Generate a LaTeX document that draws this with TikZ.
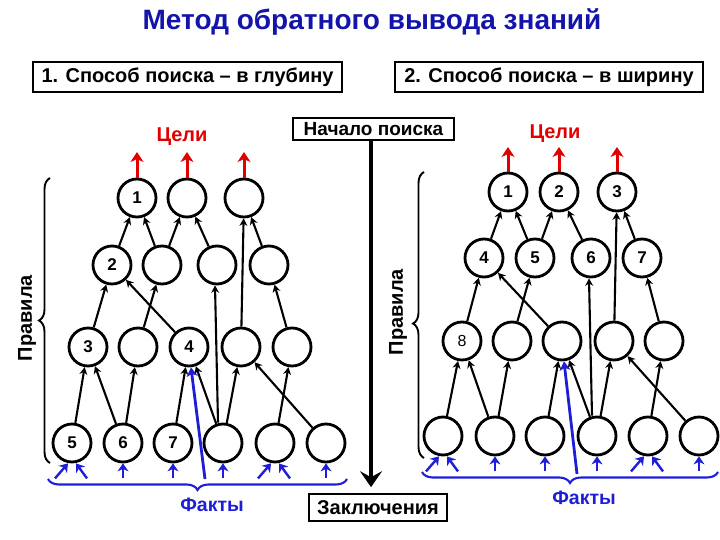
\documentclass[tikz,border=0pt]{standalone}
\usepackage{fontspec}
\setmainfont{Liberation Sans}
\usetikzlibrary{arrows.meta,decorations.pathreplacing}
\definecolor{titleblue}{RGB}{20,20,170}
\definecolor{fblue}{RGB}{30,30,215}
\definecolor{gred}{RGB}{225,0,0}
\begin{document}
\begin{tikzpicture}[x=1pt,y=-1pt,
  circ/.style={circle,draw,line width=2.8pt,minimum size=38pt,inner sep=0pt,font=\bfseries\fontsize{17}{17}\selectfont},
  edge/.style={line width=2.1pt,-{Stealth[length=7.5pt,width=8pt,inset=2.5pt]}},
  barrow/.style={fblue,line width=2.4pt,-{Stealth[length=8pt,width=11pt,inset=2.5pt]}},
  bigblue/.style={fblue,line width=2.8pt,-{Stealth[length=9pt,width=11pt,inset=2.5pt]}},
  redarr/.style={gred,line width=3pt,-{Stealth[length=10pt,width=13pt,inset=3pt]}},
  bigarr/.style={line width=4.5pt,-{Stealth[length=16pt,width=22pt,inset=6pt]}},
  hbox/.style={draw,line width=1.6pt,inner sep=0pt},
  bracebl/.style={decorate,decoration={brace,amplitude=11pt},line width=1.9pt},
  bracefb/.style={decorate,decoration={brace,amplitude=11pt},fblue,line width=2.1pt},
  rlabel/.style={rotate=90,font=\bfseries\fontsize{20}{20}\selectfont},
  glabel/.style={gred,font=\bfseries\fontsize{20}{20}\selectfont},
  flabel/.style={fblue,font=\bfseries\fontsize{19.5}{19.5}\selectfont}]
\useasboundingbox (0,0) rectangle (720,540);

% title and headers
\node[titleblue,font=\bfseries\fontsize{28}{28}\selectfont] (title) at (372,22) {Метод обратного вывода знаний};
\node[hbox,minimum width=309pt,minimum height=30pt,font=\bfseries\fontsize{20}{20}\selectfont] (m1) at (187.5,77) {1. Способ поиска – в глубину};
\node[hbox,minimum width=308pt,minimum height=30pt,font=\bfseries\fontsize{20}{20}\selectfont] (m2) at (549,77) {2. Способ поиска – в ширину};
\node[hbox,minimum width=161pt,minimum height=22pt,font=\bfseries\fontsize{19}{19}\selectfont] (start) at (373.5,129) {Начало поиска};
\node[hbox,minimum width=138pt,minimum height=27pt,font=\bfseries\fontsize{20}{20}\selectfont] (concl) at (378,507.5) {Заключения};
\draw[bigarr] ([xshift=-2.5pt]start.south) -- ([xshift=-7pt]concl.north) [shorten >=6pt];

\node[glabel] (gl) at (182,137) {Цели};
\node[glabel] (gr) at (555,134) {Цели};

% left tree
\node[circ] (L1a) at (137,198) {1};
\node[circ] (L1b) at (187,198) {};
\node[circ] (L1c) at (244,198) {};
\node[circ] (L2a) at (112,265) {2};
\node[circ] (L2b) at (162,265) {};
\node[circ] (L2c) at (217,265) {};
\node[circ] (L2d) at (269,265) {};
\node[circ] (L3a) at (88,347) {3};
\node[circ] (L3b) at (138,347) {};
\node[circ] (L3c) at (189,347) {4};
\node[circ] (L3d) at (241,347) {};
\node[circ] (L3e) at (292,347) {};
\node[circ] (L4a) at (72,443) {5};
\node[circ] (L4b) at (123,443) {6};
\node[circ] (L4c) at (173,443) {7};
\node[circ] (L4d) at (223,443) {};
\node[circ] (L4e) at (275,443) {};
\node[circ] (L4f) at (326,443) {};

% right tree
\node[circ] (R1a) at (508,192) {1};
\node[circ] (R1b) at (559,192) {2};
\node[circ] (R1c) at (617,192) {3};
\node[circ] (R2a) at (484,258) {4};
\node[circ] (R2b) at (535,258) {5};
\node[circ] (R2c) at (591,258) {6};
\node[circ] (R2d) at (642,258) {7};
\node[circ,font=\fontsize{16}{16}\selectfont] (R3a) at (462,341) {8};
\node[circ] (R3b) at (512,341) {};
\node[circ] (R3c) at (562,341) {};
\node[circ] (R3d) at (614,341) {};
\node[circ] (R3e) at (664,341) {};
\node[circ] (R4a) at (443,436) {};
\node[circ] (R4b) at (495,436) {};
\node[circ] (R4c) at (545,436) {};
\node[circ] (R4d) at (597,436) {};
\node[circ] (R4e) at (648,436) {};
\node[circ] (R4f) at (699,436) {};

% black edges
\foreach \p in {L,R}{
  \foreach \a/\b in {2a/1a,2b/1a,2b/1b,2c/1b,2d/1c,3d/1c,3a/2a,3c/2a,3b/2b,3e/2d,4a/3a,4b/3a,4b/3b,4c/3c,4d/3c,4d/3d,4e/3e,4f/3d}
    \draw[edge] (\p\a) -- (\p\b);
  \draw[edge] ([xshift=-5pt]\p4d.north) -- ([xshift=-2pt]\p2c.south);
}

% goal arrows
\coordinate (tL1) at (137,152);
\coordinate (tL2) at (187,152);
\coordinate (tL3) at (244,152);
\coordinate (tR1) at (508,147);
\coordinate (tR2) at (559,147);
\coordinate (tR3) at (617,147);
\draw[redarr] (L1a.north) -- (tL1);
\draw[redarr] (L1b.north) -- (tL2);
\draw[redarr] (L1c.north) -- (tL3);
\draw[redarr] (R1a.north) -- (tR1);
\draw[redarr] (R1b.north) -- (tR2);
\draw[redarr] (R1c.north) -- (tR3);

% fact arrows
\foreach \n in {L4a,R4a,L4e,R4e}{
  \draw[barrow] ([shift={(-17,15)}]\n.south) -- ([xshift=-4pt]\n.south);
  \draw[barrow] ([shift={(15,15)}]\n.south) -- ([xshift=4pt]\n.south);
}
\foreach \n in {L4b,L4c,L4d,L4f,R4b,R4c,R4d,R4f}
  \draw[barrow] ([yshift=-15pt]\n.south) -- (\n.south);
\coordinate (fl) at (205,479);
\coordinate (fr) at (577,474);
\draw[bigblue] (fl) -- ([xshift=2pt]L3c.south);
\draw[bigblue] (fr) -- ([xshift=2pt]R3c.south);

% braces
\draw[bracefb] (347,479) -- (48,479);
\draw[bracefb] (718,472) -- (422,472);
\node[flabel] (fx1) at (212,505) {Факты};
\node[flabel] (fx2) at (584,498) {Факты};
\draw[bracebl] (50,463) -- (50,178);
\draw[bracebl,decoration={aspect=0.47}] (424,458) -- (424,172);
\node[rlabel] (pl) at (27,318) {Правила};
\node[rlabel] (pr) at (398,312) {Правила};
\end{tikzpicture}
\end{document}
